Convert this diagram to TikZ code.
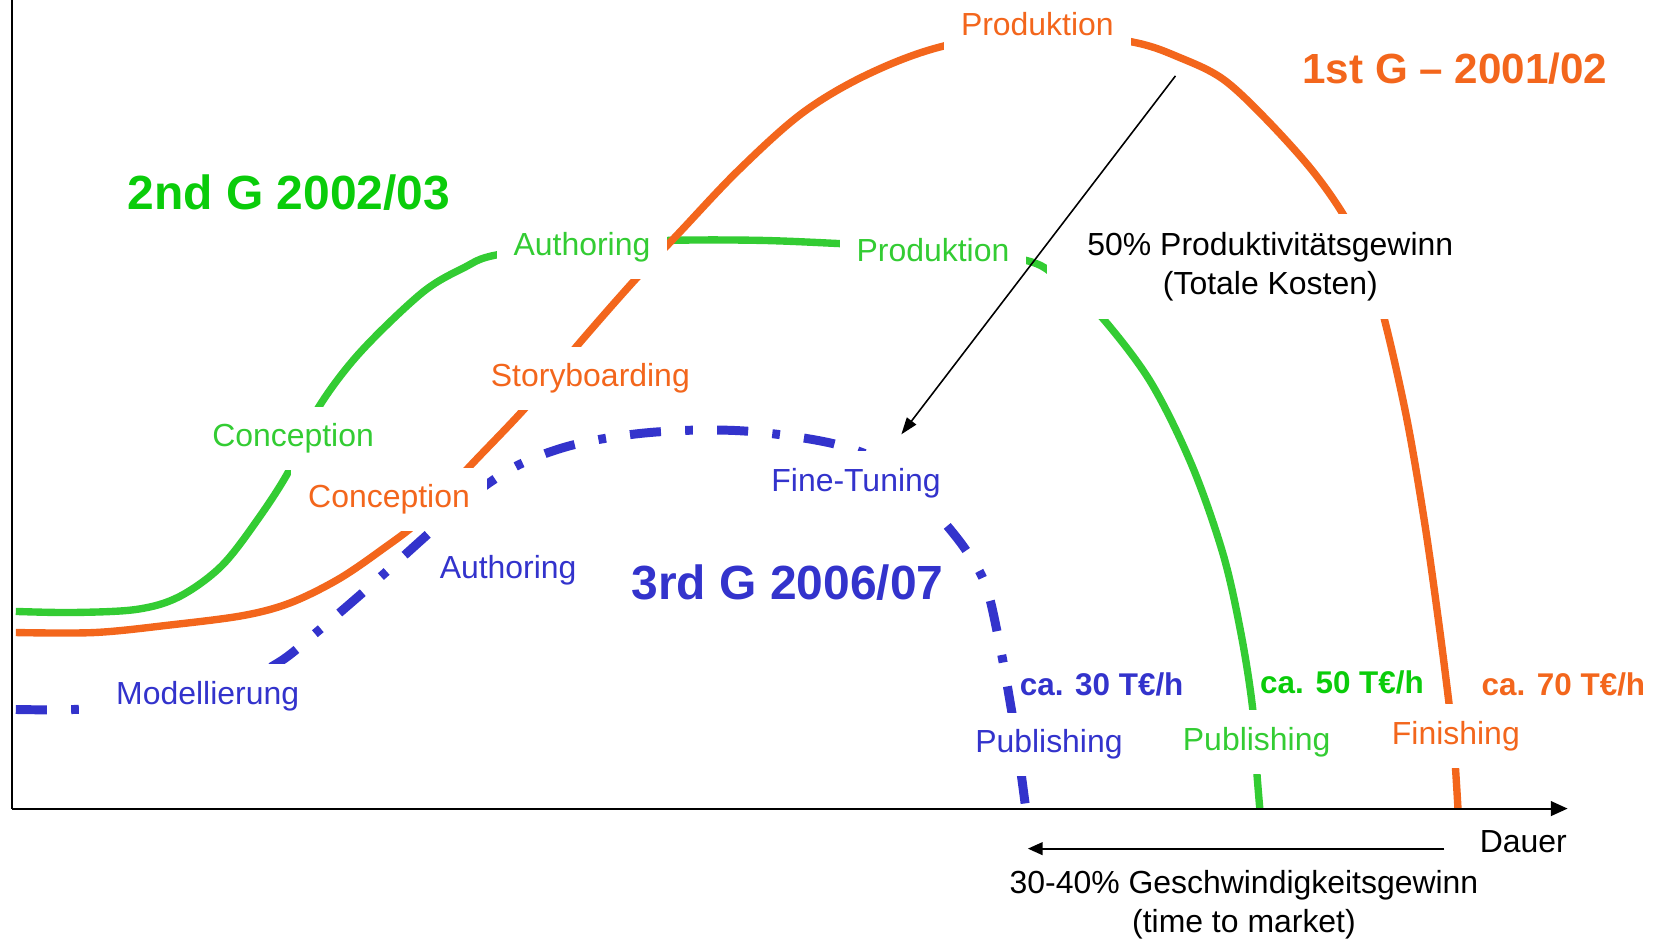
\documentclass[tikz,border=0pt]{standalone}
\usepackage{fontspec}
\setmainfont{Liberation Sans}
\usetikzlibrary{arrows.meta}
\definecolor{org}{RGB}{243,102,28}
\definecolor{grn}{RGB}{51,204,51}
\definecolor{grnb}{RGB}{10,204,10}
\definecolor{blu}{RGB}{51,51,204}
\begin{document}
\begin{tikzpicture}[x=1pt,y=-1pt,
  lbl/.style={fill=white, inner sep=16pt, align=center, yshift=-3pt, font=\fontsize{30.3}{37}\selectfont},
  plain/.style={inner sep=2pt, align=center, font=\fontsize{30.3}{37}\selectfont},
  ttl/.style={inner sep=2pt, font=\fontsize{45.5}{50}\selectfont\bfseries},
  cost/.style={inner sep=2pt, font=\fontsize{29.8}{34}\selectfont\bfseries},
  curveO/.style={draw=org, line width=7pt},
  curveG/.style={draw=grn, line width=7pt},
  curveB/.style={draw=blu, line width=8.5pt, dash pattern=on 29.5pt off 23pt on 7.3pt off 23pt},
  axisline/.style={draw=black, line width=2pt},
  thinarrow/.style={draw=black, line width=1.5pt, -{Triangle[length=16pt,width=11pt]}}
]
\useasboundingbox (0,0) rectangle (1568,890);

% curves
\draw[curveB] plot[smooth, tension=0.55] coordinates {(15,673) (70,673) (150,668) (220,650) (265,628) (300,600) (350,557) (400,512) (445,472) (490,442) (540,423) (600,412) (660,408) (720,410) (795,422) (850,445) (885,483) (915,520) (935,555) (948,610) (958,665) (966,715) (973,767)};
\draw[curveG] plot[smooth, tension=0.55] coordinates {(15,580) (70,581) (130,578) (170,566) (210,537) (245,492) (275,445) (300,390) (340,336) (400,278) (440,254) (470,242) (550,232) (637,228) (720,228) (795,231) (890,236) (977,248) (1010,270) (1040,295) (1090,360) (1130,440) (1160,525) (1177,600) (1188,670) (1192,730) (1195,767)};
\draw[curveO] plot[smooth, tension=0.55] coordinates {(15,600) (90,600) (160,593) (230,584) (275,572) (320,550) (360,523) (400,492) (445,443) (500,385) (550,325) (600,268) (645,220) (700,162) (760,108) (820,72) (890,45) (985,28) (1075,40) (1120,55) (1160,75) (1200,112) (1245,162) (1278,210) (1300,260) (1315,310) (1335,400) (1352,500) (1366,600) (1376,680) (1380,720) (1383,767)};

% axes
\coordinate (ytop) at (11,0);
\coordinate (orig) at (11,767);
\coordinate (xend) at (1487,767);
\draw[axisline] (ytop) -- (orig);
\draw[axisline, -{Triangle[length=16pt,width=14pt]}] (orig) -- (xend);

% labels
\node[lbl, text=org, yshift=2pt] (prodO) at (984,22) {Produktion};
\node[lbl, text=grn] (authG) at (552,232) {Authoring};
\node[lbl, text=grn] (prodG) at (885,234) {Produktion};
\node[lbl, text=black, inner xsep=38pt, inner ysep=17pt] (prodgain) at (1205,250) {50\% Produktivitätsgewinn\\(Totale Kosten)};
\node[lbl, text=org] (story) at (560,356) {Storyboarding};
\node[lbl, text=grn] (concG) at (278,413) {Conception};
\node[lbl, text=org] (concO) at (369,471) {Conception};
\node[lbl, text=blu] (fine) at (812,455) {Fine-Tuning};
\node[plain, text=blu, yshift=-2pt] (authB) at (482,539) {Authoring};
\node[lbl, text=blu] (model) at (197,657) {Modellierung};
\node[lbl, text=blu] (pubB) at (995,703) {Publishing};
\node[lbl, text=grn] (pubG) at (1192,701) {Publishing};
\node[lbl, text=org] (fin) at (1381,695) {Finishing};

\node[ttl, text=org, font=\fontsize{40}{46}\selectfont\bfseries] (g1) at (1380,65) {1st G – 2001/02};
\node[ttl, text=grnb] (g2) at (274,183) {2nd G 2002/03};
\node[ttl, text=blu] (g3) at (747,553) {3rd G 2006/07};

\node[cost, text=blu] (c30) at (1045,649) {ca. 30 T€/h};
\node[cost, text=grnb] (c50) at (1273,647) {ca. 50 T€/h};
\node[cost, text=org] (c70) at (1483,649) {ca. 70 T€/h};

\node[plain] (dauer) at (1445,798) {Dauer};
\node[plain] (speed) at (1180,858) {30-40\% Geschwindigkeitsgewinn\\(time to market)};

% arrows
\coordinate (pa) at (1115,72);
\coordinate (pb) at (855,412);
\draw[thinarrow] (pa) -- (pb);
\coordinate (sa) at (1370,805);
\coordinate (sb) at (975,805);
\draw[axisline, -{Triangle[length=14pt,width=12pt]}] (sa) -- (sb);
\end{tikzpicture}
\end{document}
